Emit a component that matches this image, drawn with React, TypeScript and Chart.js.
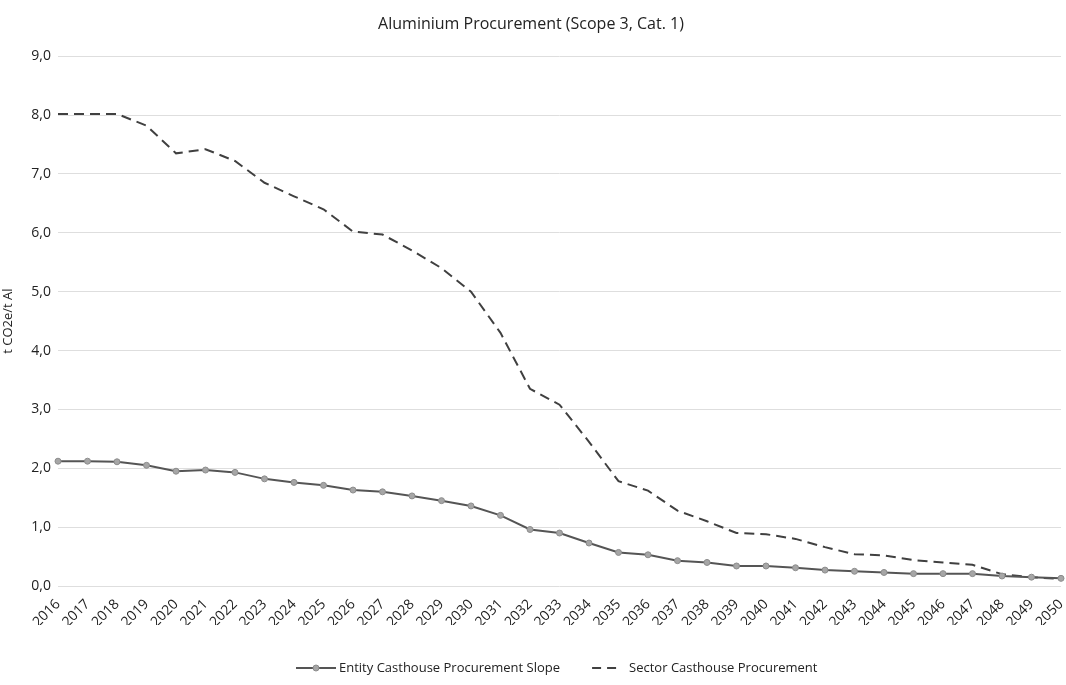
import React, { useEffect, useRef } from "react";
import { Chart, registerables } from "chart.js";

Chart.register(...registerables);

const years = [
  "2016", "2017", "2018", "2019", "2020", "2021", "2022", "2023", "2024", "2025",
  "2026", "2027", "2028", "2029", "2030", "2031", "2032", "2033", "2034", "2035",
  "2036", "2037", "2038", "2039", "2040", "2041", "2042", "2043", "2044", "2045",
  "2046", "2047", "2048", "2049", "2050",
];

const entitySlope = [
  2.12, 2.12, 2.11, 2.05, 1.95, 1.97, 1.93, 1.82, 1.76, 1.71,
  1.63, 1.6, 1.53, 1.45, 1.36, 1.2, 0.96, 0.9, 0.73, 0.57,
  0.53, 0.43, 0.4, 0.34, 0.34, 0.31, 0.27, 0.25, 0.23, 0.21,
  0.21, 0.21, 0.17, 0.15, 0.13,
];

const sectorProcurement = [
  8.02, 8.02, 8.02, 7.82, 7.35, 7.42, 7.22, 6.85, 6.62, 6.4,
  6.02, 5.97, 5.7, 5.4, 5.0, 4.3, 3.35, 3.08, 2.45, 1.78,
  1.62, 1.28, 1.1, 0.9, 0.88, 0.8, 0.66, 0.54, 0.52, 0.44,
  0.4, 0.36, 0.2, 0.15, 0.12,
];

const seriesNames = ["Entity Casthouse Procurement Slope", "Sector Casthouse Procurement"];
const chartTitle = "Aluminium Procurement (Scope 3, Cat. 1)";
const yAxisTitle = "t CO2e/t Al";

const FONT = "'Open Sans', 'Liberation Sans', sans-serif";
const TEXT = "#222222";

const legendPlugin = {
  id: "customLegend",
  afterDraw(chart: any) {
    const ctx = chart.ctx;
    const y = 668;
    ctx.save();
    ctx.font = `13px ${FONT}`;
    ctx.fillStyle = TEXT;
    ctx.textBaseline = "middle";
    ctx.textAlign = "left";
    const w1 = ctx.measureText(seriesNames[0]).width;
    const lineLen = 40;
    const gap = 3;
    const itemGap = 26;
    let x = 296;
    // entity item: solid line with circle marker
    ctx.strokeStyle = "#555";
    ctx.lineWidth = 2;
    ctx.beginPath();
    ctx.moveTo(x, y);
    ctx.lineTo(x + lineLen, y);
    ctx.stroke();
    ctx.fillStyle = "#a6a6a6";
    ctx.strokeStyle = "#8c8c8c";
    ctx.lineWidth = 1;
    ctx.beginPath();
    ctx.arc(x + lineLen / 2, y, 3, 0, Math.PI * 2);
    ctx.fill();
    ctx.stroke();
    ctx.fillStyle = TEXT;
    ctx.fillText(seriesNames[0], x + lineLen + gap, y);
    x += lineLen + gap + w1 + itemGap;
    // sector item: dashed line
    ctx.strokeStyle = "#404040";
    ctx.lineWidth = 2;
    ctx.setLineDash([9, 6]);
    ctx.beginPath();
    ctx.moveTo(x + 6, y);
    ctx.lineTo(x + lineLen - 6, y);
    ctx.stroke();
    ctx.setLineDash([]);
    ctx.fillText(seriesNames[1], x + lineLen + gap, y);
    ctx.restore();
  },
};

export default function App() {
  const ref = useRef<HTMLCanvasElement | null>(null);

  useEffect(() => {
    document.body.style.margin = "0";
    const canvas = ref.current;
    if (!canvas) return;
    const chart = new Chart(canvas, {
      type: "line",
      data: {
        labels: years,
        datasets: [
          {
            label: seriesNames[0],
            data: entitySlope,
            borderColor: "#555555",
            borderWidth: 2,
            pointRadius: 3,
            pointBackgroundColor: "#a6a6a6",
            pointBorderColor: "#8c8c8c",
            pointBorderWidth: 1,
            tension: 0,
          },
          {
            label: seriesNames[1],
            data: sectorProcurement,
            borderColor: "#404040",
            borderWidth: 2,
            borderDash: [10, 6],
            pointRadius: 0,
            tension: 0,
          },
        ],
      },
      options: {
        animation: false,
        responsive: true,
        maintainAspectRatio: false,
        layout: { padding: { left: 0, right: 4, top: 0, bottom: 60 } },
        plugins: {
          legend: { display: false },
          tooltip: { enabled: false },
          title: {
            display: true,
            text: chartTitle,
            color: TEXT,
            font: { family: FONT, size: 16, weight: "normal" },
            padding: { top: 15, bottom: 22 },
          },
        },
        scales: {
          x: {
            grid: { display: false },
            border: { display: false },
            offset: false,
            ticks: {
              color: TEXT,
              font: { family: FONT, size: 14 },
              minRotation: 45,
              maxRotation: 45,
              autoSkip: false,
              padding: 2,
            },
            afterFit(scale: any) {
              scale.height = 39;
              scale.paddingRight = 0;
            },
          },
          y: {
            min: 0,
            max: 9,
            grid: { color: "#dedede", lineWidth: 1, drawTicks: false },
            border: { display: false },
            ticks: {
              stepSize: 1,
              color: TEXT,
              font: { family: FONT, size: 14 },
              padding: 7,
              callback: (v: any) => Number(v).toFixed(1).replace(".", ","),
            },
            title: {
              display: true,
              text: yAxisTitle,
              color: TEXT,
              font: { family: FONT, size: 13 },
              padding: { top: 0, bottom: 1 },
            },
            afterFit(scale: any) {
              scale.width = 58;
            },
          },
        },
      },
      plugins: [legendPlugin],
    });
    return () => chart.destroy();
  }, []);

  return (
    <div style={{ width: 1066, height: 685, position: "relative", background: "#fff" }}>
      <canvas ref={ref} />
    </div>
  );
}
